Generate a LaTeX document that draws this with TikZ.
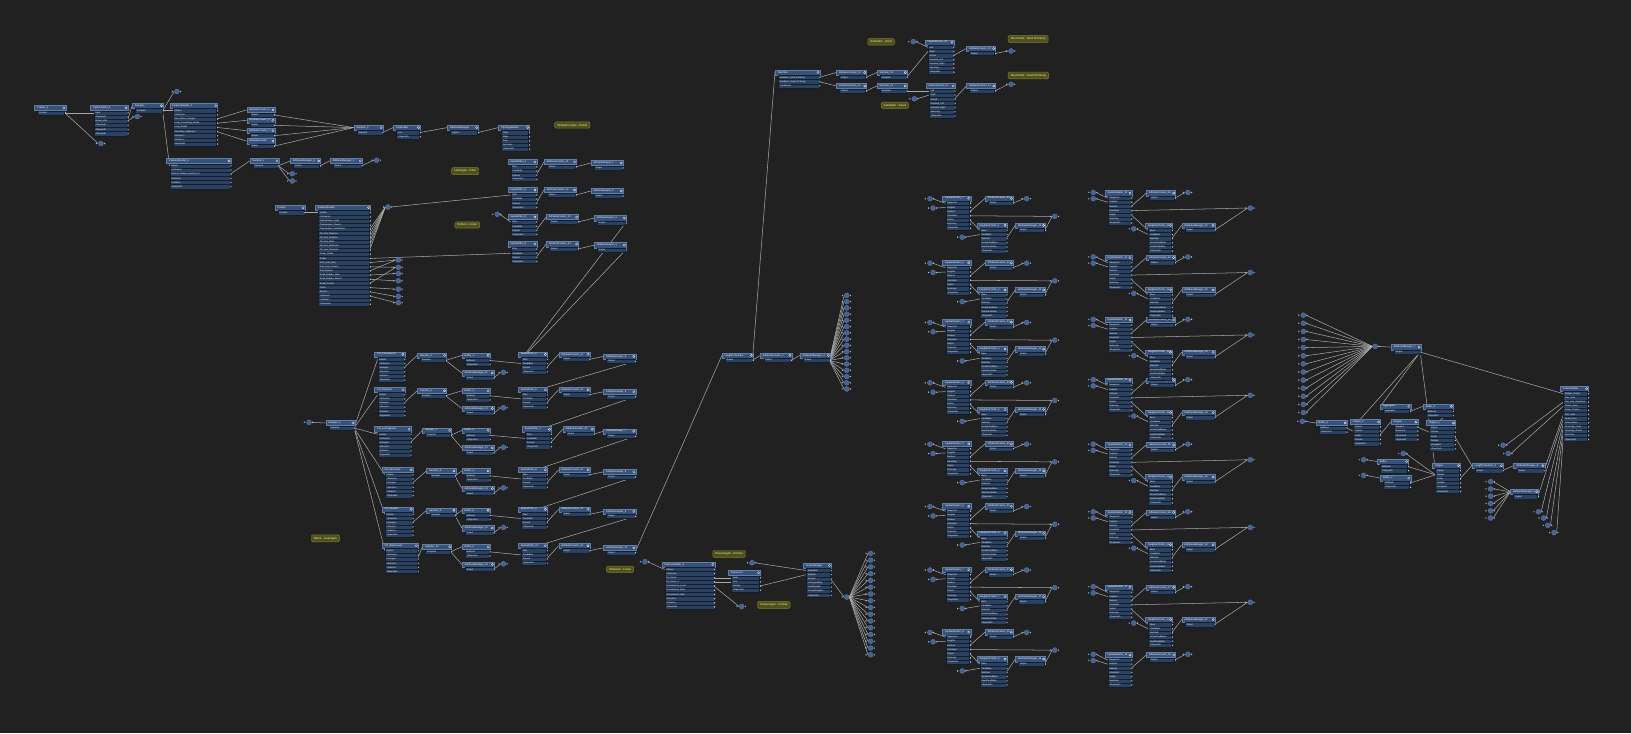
\documentclass[tikz,border=0pt]{standalone}
\usepackage{fontspec}
\setmainfont{Liberation Sans}
\usepackage{tikz}
\usetikzlibrary{calc}

\definecolor{bgc}{HTML}{212121}
\definecolor{hdrc}{HTML}{37527A}
\definecolor{hdrd}{HTML}{5F7FA8}
\definecolor{rowc}{HTML}{2A4161}
\definecolor{rowd}{HTML}{141E2B}
\definecolor{wirec}{HTML}{A8A8A8}
\definecolor{tipc}{HTML}{B9C5D5}
\definecolor{jnf}{HTML}{41639A}
\definecolor{annf}{HTML}{50501A}
\definecolor{annd}{HTML}{80802E}
\definecolor{annt}{HTML}{F5F5B5}

\pgfdeclarelayer{back}
\pgfdeclarelayer{wires}
\pgfsetlayers{back,wires,main}

\tikzset{
  hdr/.style={fill=hdrc, draw=hdrd, line width=0.3pt, minimum height=5pt, inner sep=0pt, anchor=north west},
  prt/.style={fill=rowc, draw=rowd, line width=0.35pt, minimum height=4pt, inner sep=0pt, anchor=north west},
  ttl/.style={anchor=west, xshift=2.5pt, inner sep=0pt, text=white!82, font=\fontsize{2.4}{2.8}\selectfont},
  ptx/.style={anchor=west, xshift=1.4pt, inner sep=0pt, text=white!62, font=\fontsize{2.1}{2.4}\selectfont},
  gearc/.style={draw=white!45, line width=0.25pt, fill=hdrc},
  wire/.style={draw=wirec, line width=0.5pt},
  jnc/.style={circle, fill=jnf, draw=hdrd, line width=0.3pt, minimum size=4.8pt, inner sep=0pt},
  ann/.style={fill=annf, draw=annd, line width=0.45pt, rounded corners=1.2pt, text=annt,
    font=\fontsize{2.8}{3.2}\selectfont, inner xsep=2.5pt, inner ysep=2pt, anchor=north west},
}

% transformer: name, x, y, width, title, ports
\newcommand{\trans}[6]{%
  \node[hdr, minimum width=#4pt, label={[ttl]west:#5}] (#1) at (#2,#3) {};
  \draw[gearc] ([xshift=-2pt]#1.east) circle (1.1pt);
  \foreach \p [count=\i] in {#6} {%
    \node[prt, minimum width=#4pt-4pt, label={[ptx]west:\p}] (#1-\i) at ($(#1.south west)+(3,\i*4-4)$) {};
    \fill[tipc] ([xshift=0.3pt,yshift=0.9pt]#1-\i.east) -- ++(1.2,0.9) -- ++(-1.2,0.9) -- cycle;
  }%
}
% junction: name, x, y
\newcommand{\junc}[3]{%
  \node[jnc] (#1) at (#2,#3) {};
  \fill[tipc] ([xshift=-2.2pt,yshift=0.8pt]#1.west) -- ++(1.2,0.8) -- ++(-1.2,0.8) -- cycle;
  \fill[tipc] ([xshift=0.6pt,yshift=0.8pt]#1.east) -- ++(1.2,0.8) -- ++(-1.2,0.8) -- cycle;
}
% annotation: name, x, y, text
\newcommand{\anno}[4]{\node[ann] (#1) at (#2,#3) {#4};}

\begin{document}
\begin{tikzpicture}[x=1pt,y=-1pt]
\begin{pgfonlayer}{back}
  \fill[bgc] (0,0) rectangle (1568,705);
\end{pgfonlayer}
\useasboundingbox (0,0) rectangle (1568,705);

% top left readers
\trans{cr2}{33}{101}{30}{Creator\_2}{Created}
\trans{pyc}{87}{101}{36}{PythonCaller\_3}{Input,<Rejected>,Output\_attrs,<Rejected>,<Rejected>,<Rejected>}
\junc{ja1}{97}{138}
\trans{smp1}{127}{99}{30}{Sampler}{Sampled}
\junc{ja2}{132}{112}
\junc{ja3}{170}{88}
\trans{fr3}{163}{99}{46}{FeatureReader\_3}{Initiator,<Schema>,Gas\_Station\_Polygon,Local\_Connecting\_Roads,Local\_Roads,Secondary\_Highways,<Generic>,<Initiator>,<Rejected>}
\trans{ac5}{237}{103}{27}{AttributeCreator\_5}{Output}
\trans{ac6}{237}{113}{27}{AttributeCreator\_6}{Output}
\trans{ac7}{237}{123}{27}{AttributeCreator\_7}{Output}
\trans{ac8}{237}{133}{27}{AttributeCreator}{Output}
\trans{smp3}{340}{120}{28}{Sampler\_3}{Sampled}
\trans{lb}{378}{120}{26}{LineBuilder}{Line,<Rejected>}
\trans{am1}{430}{120}{30}{AttributeManager}{Output}
\trans{tb}{479}{120}{30}{TopologyBuilder}{Node,Edge,Face,Summary,<Rejected>}
\anno{n1}{533}{117}{Network nodes - Points}
\trans{fr5}{160}{152}{62}{FeatureReader\_5}{Initiator,<Schema>,National\_Bridge\_Inventory\_A,<Generic>,<Initiator>,<Rejected>}
\trans{smp2}{240}{152}{28}{Sampler\_2}{Sampled}
\trans{amg1}{279}{152}{29}{AttributeManager\_6}{Output}
\trans{amg2}{317}{152}{31}{AttributeManager\_3}{Output}
\junc{ja4}{362}{154}
\junc{ja5}{281}{167}
\junc{ja6}{281}{174}

% second reader and spatial filters
\trans{crb}{264}{197}{29}{Creator}{Created}
\trans{frb}{303}{197}{53}{FeatureReader}{Initiator,<Schema>,Transmission\_Lines,Transmission\_Towers,Transmission\_Substations,Oil\_Gas\_Pipelines,Oil\_Gas\_Facilities,Oil\_Gas\_Wells,Oil\_Gas\_Refineries,Oil\_Gas\_Terminals,Power\_Plants,Roads,Rail\_Lines\_Main,Rail\_Lines\_Branch,Rail\_Stations,Road\_Bridges\_Main,Road\_Bridges\_Branch,Road\_Tunnels,Dams,Airports,<Generic>,<Initiator>,<Rejected>}
\junc{jb1}{373}{199}
\foreach \m/\yy in {2/250,3/257,4/263,5/270,6/278,7/285,8/291} {\junc{jb\m}{383}{\yy}}
\foreach \m/\yy/\xa/\xk in {1/153/523/568,2/180/523/568,3/206/525/571,4/232/525/571} {
  \trans{sfb\m}{488}{\yy}{28}{SpatialFilter\_\m}{Filter,Candidate,Passed,<Rejected>}
  \trans{acb\m}{\xa}{\yy}{31}{AttributeCreator\_1\m}{Output}
  \trans{akb\m}{\xk}{\yy+1}{31}{AttributeKeeper\_\m}{Output}
}
\junc{jb9}{478}{206}
\anno{n2}{434}{161}{Leitungen - Filter}
\anno{n3}{437}{213}{Knoten - Linien}

% network readers
\junc{jl}{297}{406}
\trans{smpl}{313}{404}{28}{Sampler\_4}{Sampled}
\anno{n4}{299}{514}{Netze - Leitungen}
\foreach \k/\yy/\xf/\wf/\xs/\xsf/\nm/\nn in {1/338/360/29/401/498/FR\_Fernwaerme/5,2/372/360/29/401/498/FR\_Pipelines/6,3/410/360/35/406/502/FR\_Leitungsnetz/7,4/449/367/30/410/498/FR\_Stromnetz/8,5/487/367/30/410/498/FR\_Gasnetz/9,6/522/367/35/406/498/FR\_Wassernetz/10} {
  \trans{frc\k}{\xf}{\yy}{\wf}{\nm}{Initiator,<Schema>,Leitungen,<Generic>,<Initiator>,<Rejected>}
  \trans{smc\k}{\xs}{\yy+1}{28}{Sampler\_\nn}{Sampled}
  \trans{bfc\k}{444}{\yy+1}{27}{Buffer\_\k}{Buffered,<Rejected>}
  \trans{amc\k}{444}{\yy+18}{31}{AttributeManager\_1\k}{Output}
  \junc{jc\k}{484}{\yy+20}
  \trans{sfc\k}{\xsf}{\yy}{28}{SpatialFilter\_\nn}{Filter,Candidate,Passed,<Rejected>}
  \trans{acc\k}{\xsf+39}{\yy}{30}{AttributeCreator\_2\k}{Output}
  \trans{akc\k}{580}{\yy+2}{31}{AttributeKeeper\_\nn}{Output}
}

% street reader
\anno{n5}{583}{544}{Strassen - Linien}
\junc{jd1}{620}{540}
\trans{frd}{636}{540}{51}{FeatureReader\_2}{Initiator,<Schema>,Ext\_Street,Ext\_Street\_2,Transmission\_Local,Transmission\_Main,Transmission\_Sub,<Generic>,<Initiator>,<Rejected>}
\trans{tfd}{700}{548}{31}{Intersector}{Node,Line,Overlap,<Rejected>}
\junc{jd2}{713}{583}
\anno{n6}{728}{578}{Kreuzungen - Punkte}
\anno{n7}{685}{529}{Kreuzungen - Knoten}
\junc{jd3}{723}{541}
\trans{fm}{772}{541}{27}{FeatureMerger}{Requestor,Supplier,Merged,UnmergedReq,UsedSupplier,UnusedSupplier,<Rejected>}
\junc{jd4}{814}{574}
\foreach \m in {1,...,16} {\junc{jdf\m}{837}{525.5+6.5*\m}}

% centre chain
\trans{lc}{694}{339}{30}{LengthCalculator}{Output}
\trans{acE0}{731}{339}{30}{AttributeCreator\_2}{Output}
\trans{amE0}{769}{339}{29}{AttributeManager\_4}{Output}
\foreach \m in {1,...,16} {\junc{jef\m}{814}{278+6*\m}}
\trans{tE}{745}{67}{43}{TestFilter}{Autobahn\_Nord\_Richtung,Autobahn\_Sued\_Richtung,<Unfiltered>}
\trans{acE1}{804}{67}{29}{AttributeCreator\_10}{Output}
\trans{acE2}{804}{80}{29}{AttributeCreator\_11}{Output}
\trans{spE1}{843}{67}{29}{Sampler\_12}{Sampled}
\trans{spE2}{843}{80}{29}{Sampler\_13}{Sampled}
\junc{jE1}{878}{40}
\junc{jE2}{879}{95}
\anno{n8}{834}{37}{Autobahn - Nord}
\anno{n9}{847}{98}{Autobahn - Sued}
\trans{fjE1}{889}{38}{28}{FeatureJoiner\_12}{Left,Right,Joined,Unjoined\_Left,Unjoined\_Right,Summary,<Rejected>}
\trans{fjE2}{890}{80}{28}{FeatureJoiner\_13}{Left,Right,Joined,Unjoined\_Left,Unjoined\_Right,Summary,<Rejected>}
\trans{acE3}{929}{44}{28}{AttributeCreator\_12}{Output}
\trans{acE4}{929}{80}{28}{AttributeCreator\_13}{Output}
\junc{jE3}{972}{49}
\junc{jE4}{972}{81}
\anno{n10}{969}{34}{Abschnitte - Nord Richtung}
\anno{n11}{969}{69}{Abschnitte - Sued Richtung}

% relator groups, left column
\foreach \g/\yy in {1/188,2/250,3/307,4/365,5/424,6/484,7/545,8/605} {
  \junc{laL\g}{894}{\yy+3}
  \junc{lbL\g}{897}{\yy+12}
  \trans{srL\g}{906}{\yy}{27}{SpatialRelator\_\g}{Requestor,Supplier,Related,Unrelated,Output,Summary,<Rejected>}
  \trans{acL\g}{947}{\yy}{27}{AttributeCreator\_3\g}{Output}
  \junc{jaL\g}{987}{\yy+3}
  \junc{jnL\g}{925}{\yy+40}
  \trans{nfL\g}{939}{\yy+26}{29}{NeighborFinder\_\g}{Base,Candidate,Matched,UnmatchedBase,UsedCandidate,<Rejected>}
  \trans{amL\g}{976}{\yy+26}{29}{AttributeManager\_3\g}{Output}
  \junc{jfL\g}{1014}{\yy+20}
}
% relator groups, right column
\foreach \g/\yy in {1/183,2/245,3/305,4/363,5/425,6/490,7/562,8/627} {
  \junc{laR\g}{1051}{\yy+2}
  \junc{lbR\g}{1051}{\yy+8}
  \trans{srR\g}{1062}{\yy}{26}{SpatialRelator\_1\g}{Requestor,Supplier,Related,Unrelated,Output,Summary,<Rejected>}
  \trans{acR\g}{1102}{\yy}{28}{AttributeCreator\_4\g}{Output}
  \junc{jaR\g}{1142}{\yy+2}
}
\foreach \g/\yy in {1/183,2/245,3/305,4/363,5/425,6/490,7/562} {
  \junc{jnR\g}{1090}{\yy+37}
  \trans{nfR\g}{1101}{\yy+31}{26}{NeighborFinder\_1\g}{Base,Candidate,Matched,UnmatchedBase,UsedCandidate,<Rejected>}
  \trans{amR\g}{1136}{\yy+31}{32}{AttributeManager\_4\g}{Output}
  \junc{jfR\g}{1202}{\yy+17}
}

% writer part
\foreach \m in {1,...,13} {\junc{jgl\m}{1253}{295.2+7.8*\m}}
\junc{jg0}{1322}{333}
\trans{amG}{1337}{331}{29}{AttributeManager\_7}{Output}
\trans{fw}{1500}{371}{27}{FeatureWriter}{Bridges\_Output,Gas\_Lines,Gas\_Line\_Segments,Power\_Lines,Power\_Towers,Rail\_Lines,Road\_Lines,Intersections,Crossings\_Lines,Crossings\_Points,Summary,<Rejected>}
\junc{jg14}{1252}{405}
\trans{buf8}{1265}{404}{30}{Buffer\_8}{Buffered,<Rejected>}
\trans{agg}{1327}{388}{29}{Aggregator}{Aggregate}
\trans{buf9}{1368}{388}{29}{Buffer\_9}{Buffered,<Rejected>}
\trans{clip2}{1298}{403}{29}{Clipper\_2}{Clipper,Clippee,Inside,Outside,<Rejected>}
\trans{lol}{1337}{403}{26}{Snipper}{Snipped,Remnants,Untouched,<Rejected>}
\trans{clip3}{1371}{404}{28}{Clipper\_3}{Clipper,Clippee,Inside,Outside,Unclipped,<Rejected>}
\junc{jg15}{1311}{442}
\trans{bufa}{1324}{441}{30}{Buffer}{Buffered,<Rejected>}
\junc{jg16}{1311}{457}
\trans{bufb}{1327}{457}{29}{Buffer\_2}{Buffered,<Rejected>}
\junc{jg17}{1349}{436}
\trans{clipG}{1377}{445}{27}{Clipper}{Clipper,Clippee,Inside,Outside,Unclipped,<Rejected>}
\trans{lcG}{1415}{445}{30}{LengthCalculator\_2}{Output}
\trans{amG2}{1455}{445}{30}{AttributeManager\_8}{Output}
\trans{amG3}{1452}{470}{27}{AttributeManager\_9}{Output}
\foreach \m in {1,...,6} {\junc{jgf\m}{1433}{456+7*\m}}
\junc{jga1}{1445}{428}
\junc{jga2}{1450}{436}
\junc{jgb1}{1479}{492}
\junc{jgb2}{1484}{498}
\junc{jgb3}{1488}{505}
\junc{jgb4}{1494}{512}

% connections
\begin{pgfonlayer}{wires}
\foreach \a/\b in {cr2-1.east/pyc-1.west,cr2-1.east/ja1.west,pyc-3.east/smp1.west,pyc-3.east/ja2.west,
  smp1-1.east/ja3.west,smp1-1.east/fr3-1.west,smp1-1.east/fr5-1.west,fr3-3.east/ac5.west,fr3-4.east/ac6.west,
  fr3-5.east/ac7.west,fr3-6.east/ac8.west,ac5-1.east/smp3.west,ac6-1.east/smp3.west,ac7-1.east/smp3.west,
  ac8-1.east/smp3.west,smp3-1.east/lb.west,lb-1.east/am1.west,am1-1.east/tb.west,fr5-3.east/smp2.west,
  smp2-1.east/amg1.west,smp2-1.east/ja5.west,smp2-1.east/ja6.west,amg1-1.east/amg2.west,amg2-1.east/ja4.west}
  {\draw[wire] (\a) -- (\b);}
\foreach \a/\b in {crb-1.east/frb-1.west,frb-5.east/jb1.west,frb-6.east/jb1.west,frb-7.east/jb1.west,
  frb-8.east/jb1.west,frb-9.east/jb1.west,frb-10.east/jb1.west,jb1.east/sfb2-1.west,frb-12.east/sfb4-2.west,
  frb-13.east/jb2.west,frb-14.east/jb3.west,frb-15.east/jb2.west,frb-16.east/jb4.west,frb-17.east/jb5.west,
  frb-18.east/jb3.west,frb-19.east/jb6.west,frb-20.east/jb7.west,frb-21.east/jb8.west,jb9.east/sfb3-1.west,
  akb3-1.east/sfc1-1.west,akb4-1.east/sfc1-1.west}
  {\draw[wire] (\a) -- (\b);}
\foreach \m in {1,...,4} {
  \draw[wire] (sfb\m-3.east) -- (acb\m.west);
  \draw[wire] (acb\m-1.east) -- (akb\m.west);
}
\draw[wire] (jl.east) -- (smpl.west);
\foreach \k in {1,...,6} {
  \draw[wire] (smpl-1.east) -- (frc\k-1.west);
  \draw[wire] (frc\k-3.east) -- (smc\k.west);
  \draw[wire] (smc\k-1.east) -- (bfc\k.west);
  \draw[wire] (smc\k-1.east) -- (amc\k.west);
  \draw[wire] (amc\k-1.east) -- (jc\k.west);
  \draw[wire] (bfc\k-1.east) -- (sfc\k-2.west);
  \draw[wire] (sfc\k-3.east) -- (acc\k.west);
  \draw[wire] (acc\k-1.east) -- (akc\k.west);
}
\foreach \a/\b in {akc1/sfc2,akc2/sfc3,akc3/sfc4,akc4/sfc5,akc5/sfc6}
  {\draw[wire] (\a-1.east) -- (\b-1.west);}
\draw[wire] (akc6-1.east) -- (lc.west);
\foreach \a/\b in {jd1.east/frd-1.west,frd-3.east/tfd-1.west,frd-4.east/tfd-2.west,frd-5.east/jd2.west,
  tfd-3.east/fm-2.west,jd3.east/fm-1.west,fm-3.east/jd4.west}
  {\draw[wire] (\a) -- (\b);}
\foreach \m in {1,...,16} {
  \draw[wire] (jd4.east) -- (jdf\m.west);
  \draw[wire] (amE0-1.east) -- (jef\m.west);
}
\foreach \a/\b in {lc-1.east/acE0.west,acE0-1.east/amE0.west,lc-1.east/tE.west,tE-1.east/acE1.west,
  tE-2.east/acE2.west,acE1-1.east/spE1.west,acE2-1.east/spE2.west,jE1.east/fjE1-1.west,spE1-1.east/fjE1-2.west,
  spE2-1.east/fjE2-1.west,jE2.east/fjE2-2.west,fjE1-3.east/acE3.west,fjE2-3.east/acE4.west,
  acE3-1.east/jE3.west,acE4-1.east/jE4.west}
  {\draw[wire] (\a) -- (\b);}
\foreach \s in {L,R} {
  \foreach \g in {1,...,8} {
    \draw[wire] (la\s\g.east) -- (sr\s\g-1.west);
    \draw[wire] (lb\s\g.east) -- (sr\s\g-2.west);
    \draw[wire] (sr\s\g-3.east) -- (ac\s\g.west);
    \draw[wire] (ac\s\g-1.east) -- (ja\s\g.west);
  }
}
\foreach \g in {1,...,8} {
  \draw[wire] (srL\g-4.east) -- (jfL\g.west);
  \draw[wire] (srL\g-5.east) -- (nfL\g-1.west);
  \draw[wire] (jnL\g.east) -- (nfL\g-2.west);
  \draw[wire] (nfL\g-3.east) -- (amL\g.west);
  \draw[wire] (amL\g-1.east) -- (jfL\g.west);
}
\foreach \g in {1,...,7} {
  \draw[wire] (srR\g-4.east) -- (jfR\g.west);
  \draw[wire] (srR\g-5.east) -- (nfR\g-1.west);
  \draw[wire] (jnR\g.east) -- (nfR\g-2.west);
  \draw[wire] (nfR\g-3.east) -- (amR\g.west);
  \draw[wire] (amR\g-1.east) -- (jfR\g.west);
}
\foreach \m in {1,...,13} {\draw[wire] (jgl\m.east) -- (jg0.west);}
\foreach \m in {1,...,6} {\draw[wire] (jgf\m.east) -- (amG3.west);}
\foreach \a/\b in {jg0.east/amG.west,amG-1.east/fw-1.west,amG-1.east/clip2-1.west,amG-1.east/agg.west,
  amG-1.east/clipG-1.west,jg14.east/buf8.west,buf8-1.east/clip2-2.west,agg-1.east/buf9.west,
  buf9-1.east/clip3-1.west,clip2-3.east/lol.west,lol-1.east/clip3-2.west,clip3-3.east/lcG.west,
  jg15.east/bufa.west,jg16.east/bufb.west,bufa-1.east/clipG-2.west,bufb-1.east/clipG-2.west,
  jg17.east/clipG-2.west,clipG-3.east/lcG.west,lcG-1.east/amG2.west,amG2-1.east/fw-6.west,
  amG3-1.east/fw-7.west,jga1.east/fw-3.west,jga2.east/fw-4.west,jgb1.east/fw-8.west,
  jgb2.east/fw-9.west,jgb3.east/fw-10.west,jgb4.east/fw-11.west}
  {\draw[wire] (\a) -- (\b);}
\end{pgfonlayer}
\end{tikzpicture}
\end{document}
